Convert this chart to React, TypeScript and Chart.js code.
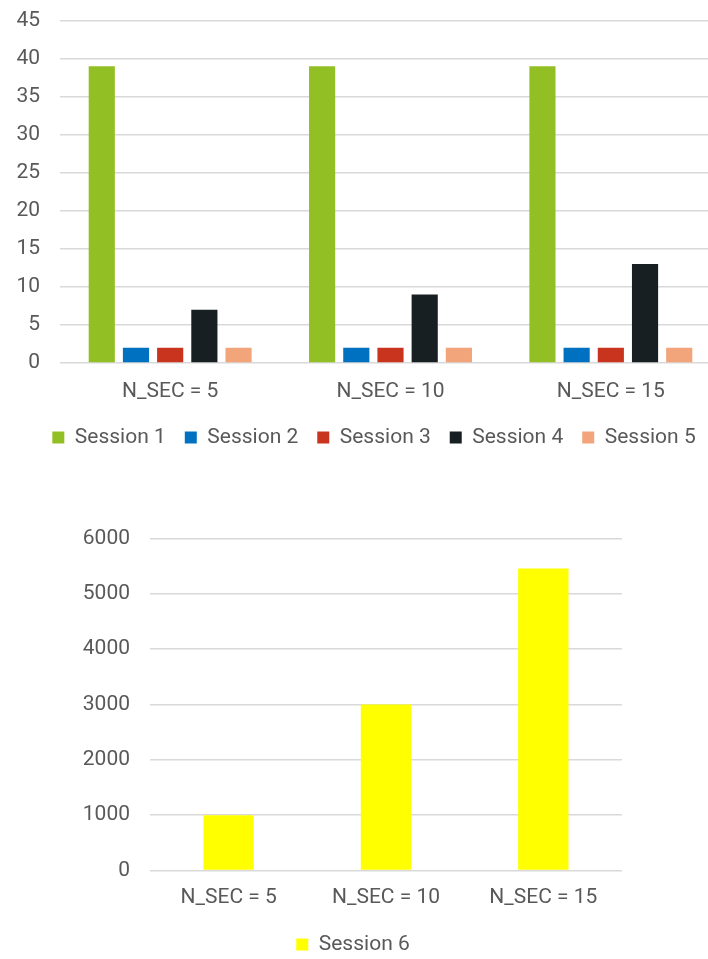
import React, { useEffect, useRef } from "react";
import { Chart, registerables } from "chart.js";

Chart.register(...registerables);

const categories = ["N_SEC = 5", "N_SEC = 10", "N_SEC = 15"];
const session1 = [39, 39, 39];
const session2 = [2, 2, 2];
const session3 = [2, 2, 2];
const session4 = [7, 9, 13];
const session5 = [2, 2, 2];
const session6 = [1000, 3000, 5460];

const topTicks = [0, 5, 10, 15, 20, 25, 30, 35, 40, 45];
const bottomTicks = [0, 1000, 2000, 3000, 4000, 5000, 6000];

const FONT = "Roboto";
const TEXT = "#595959";
const GRID = "#d9d9d9";

function makeOptions(
  ticks: number[],
  leftW: number,
  rightW: number,
  xH: number,
  xPad: number,
  catPct: number,
  barPct: number,
  legendPad: number
) {
  return {
    responsive: false,
    animation: false as const,
    maintainAspectRatio: false,
    layout: { padding: 0 },
    datasets: { bar: { categoryPercentage: catPct, barPercentage: barPct } },
    plugins: {
      tooltip: { enabled: false },
      legend: {
        position: "bottom" as const,
        labels: {
          color: TEXT,
          font: { family: FONT, size: 21 },
          boxWidth: 12,
          boxHeight: 12,
          padding: legendPad,
        },
      },
    },
    scales: {
      x: {
        afterFit: (s: any) => { s.height = xH; },
        grid: { display: false, drawTicks: false },
        border: { display: false },
        ticks: { color: TEXT, font: { family: FONT, size: 21 }, padding: xPad, maxRotation: 0 },
      },
      y: {
        position: "left" as const,
        min: ticks[0],
        max: ticks[ticks.length - 1],
        afterFit: (s: any) => { s.width = leftW; },
        afterBuildTicks: (s: any) => { s.ticks = ticks.map((v) => ({ value: v })); },
        grid: { color: GRID, lineWidth: 1.5, drawTicks: false },
        border: { display: false },
        ticks: {
          color: TEXT,
          font: { family: FONT, size: 21 },
          padding: 20,
          callback: (v: any) => String(v),
        },
      },
      spacer: {
        type: "linear" as const,
        position: "right" as const,
        display: true,
        afterFit: (s: any) => { s.width = rightW; },
        grid: { display: false, drawTicks: false },
        border: { display: false },
        ticks: { display: false },
      },
    },
  };
}

export default function App() {
  const topRef = useRef<HTMLCanvasElement>(null);
  const botRef = useRef<HTMLCanvasElement>(null);

  useEffect(() => {
    const c1 = new Chart(topRef.current!, {
      type: "bar",
      data: {
        labels: categories,
        datasets: [
          { label: "Session 1", data: session1, backgroundColor: "#92c024" },
          { label: "Session 2", data: session2, backgroundColor: "#0070c0" },
          { label: "Session 3", data: session3, backgroundColor: "#c9341f" },
          { label: "Session 4", data: session4, backgroundColor: "#181f22" },
          { label: "Session 5", data: session5, backgroundColor: "#f2a47a" },
        ],
      },
      options: makeOptions(topTicks, 60, 27, 45, 16, 0.776, 0.765, 19) as any,
    });
    const c2 = new Chart(botRef.current!, {
      type: "bar",
      data: {
        labels: categories,
        datasets: [{ label: "Session 6", data: session6, backgroundColor: "#ffff00" }],
      },
      options: makeOptions(bottomTicks, 150, 84, 44.5, 15, 0.8, 0.4, 19) as any,
    });
    return () => {
      c1.destroy();
      c2.destroy();
    };
  }, []);

  return (
    <div style={{ position: "fixed", left: 0, top: 0, width: 708, height: 959, overflow: "hidden", background: "#fff" }}>
      <canvas ref={topRef} width={748} height={470} style={{ position: "absolute", left: 0, top: -12 }} />
      <canvas ref={botRef} width={706} height={459} style={{ position: "absolute", left: 0, top: 506 }} />
    </div>
  );
}
